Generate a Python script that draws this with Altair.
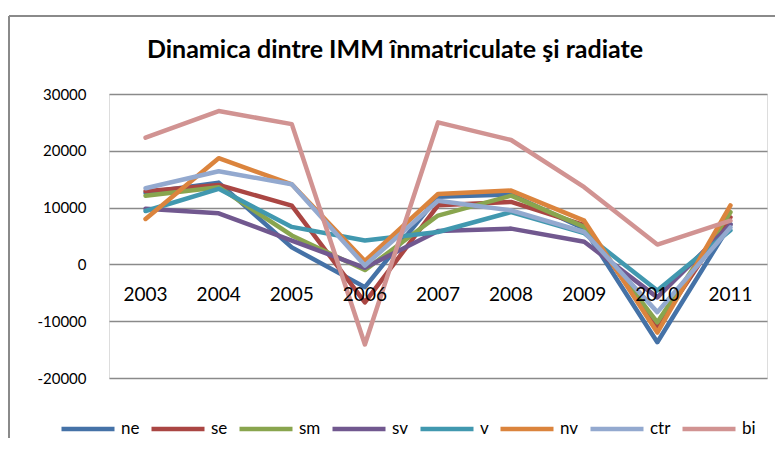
import altair as alt
import pandas as pd

years = ["2003", "2004", "2005", "2006", "2007", "2008", "2009", "2010", "2011"]
series_names = ["ne", "se", "sm", "sv", "v", "nv", "ctr", "bi"]
ne = [12600, 14400, 3000, -4000, 11900, 12300, 6300, -13700, 7100]
se = [12900, 14000, 10350, -6700, 10400, 11000, 6900, -11000, 8300]
sm = [12100, 13600, 5100, -1000, 8600, 12100, 6600, -10200, 9200]
sv = [9800, 9000, 4200, -600, 5900, 6300, 4000, -5800, 7000]
v = [9400, 13300, 6600, 4200, 5700, 9200, 5500, -4600, 6000]
nv = [8000, 18700, 14100, 600, 12400, 13000, 7700, -12000, 10400]
ctr = [13400, 16400, 14100, -200, 11200, 9500, 5700, -8400, 6500]
bi = [22300, 27000, 24700, -14100, 25000, 21900, 13600, 3500, 7700]
y_ticks = [-20000, -10000, 0, 10000, 20000, 30000]
colors = ["#4572A7", "#AA4643", "#89A54E", "#71588F", "#4198AF", "#DB843D", "#93A9CF", "#D19392"]

all_series = [ne, se, sm, sv, v, nv, ctr, bi]
rows = []
for name, vals in zip(series_names, all_series):
    for yr, val in zip(years, vals):
        rows.append({"series": name, "year": yr, "value": val})
df = pd.DataFrame(rows)
df_years = pd.DataFrame({"year": years, "zero": [0] * len(years)})

FONT = "Lato"
W, H = 658, 284

xscale = alt.Scale(type="point", padding=0.5, domain=years)
yscale = alt.Scale(domain=[-20000, 30000], nice=False, zero=False)

lines = alt.Chart(df).mark_line(strokeWidth=4.5, strokeJoin="round", strokeCap="round").encode(
    x=alt.X("year:O", scale=xscale, axis=None),
    y=alt.Y("value:Q", scale=yscale,
            axis=alt.Axis(values=y_ticks, title=None, domain=False, ticks=False,
                          labelPadding=23, labelFontSize=15, labelFont=FONT,
                          labelColor="#000000", labelExpr="toString(datum.value)",
                          grid=True, gridColor="#8a8a8a", gridWidth=1.5)),
    color=alt.Color("series:N", scale=alt.Scale(domain=series_names, range=colors),
                    legend=alt.Legend(orient="none", legendX=-50, legendY=306,
                                      direction="horizontal", columns=8, title=None,
                                      symbolType="stroke", symbolSize=2809,
                                      symbolStrokeWidth=4.5, labelFontSize=17,
                                      labelFont=FONT, labelColor="#000000",
                                      labelOffset=4, columnPadding=2)),
    order=alt.Order("year:O"),
)

xlabels = alt.Chart(df_years).mark_text(baseline="middle", dy=31, fontSize=19, font=FONT, color="#000000").encode(
    x=alt.X("year:O", scale=xscale, axis=None),
    y=alt.Y("zero:Q", scale=yscale),
    text="year:N",
)

frame_left = alt.Chart(df_years).mark_rule(color="#8a8a8a", strokeWidth=1.5).encode(
    x=alt.value(-100), y=alt.value(-78), y2=alt.value(344)
)
frame_top = alt.Chart(df_years).mark_rule(color="#8a8a8a", strokeWidth=1.5).encode(
    x=alt.value(-100), x2=alt.value(666), y=alt.value(-78)
)

chart = alt.layer(frame_left, frame_top, lines, xlabels).properties(
    width=W, height=H,
    title=alt.TitleParams("Dinamica dintre IMM înmatriculate şi radiate", font=FONT,
                          fontSize=25, fontWeight="bold", color="#000000",
                          anchor="middle", dx=-43, dy=48, offset=0),
    autosize=alt.AutoSizeParams(type="none"),
    padding={"left": 101, "top": 86, "right": 8, "bottom": 60},
).configure_view(stroke=None).configure(background="white")

chart.save("out.html", embed_options={"renderer": "svg", "actions": False})
